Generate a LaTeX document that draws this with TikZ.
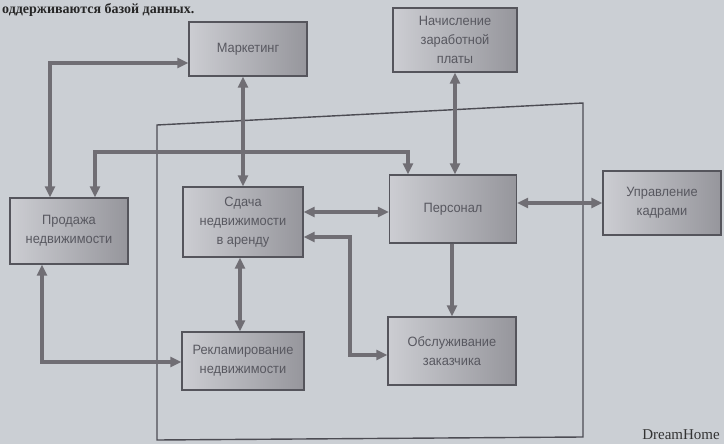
\documentclass[tikz,border=0pt]{standalone}
\usepackage{fontspec}
\setmainfont{Liberation Serif}
\newfontfamily\boxfont[FakeStretch=0.95]{Liberation Sans}
\usetikzlibrary{arrows.meta}
\definecolor{paper}{RGB}{203,207,212}
\definecolor{boxl}{RGB}{204,205,210}
\definecolor{boxr}{RGB}{150,150,156}
\definecolor{edge}{RGB}{85,85,92}
\definecolor{link}{RGB}{112,110,116}
\definecolor{ink}{RGB}{88,88,96}
\tikzset{
  unit/.style={draw=edge, line width=1.3pt, left color=boxl, right color=boxr,
    inner sep=2pt, align=center, text=ink, font=\boxfont\fontsize{13.5}{19}\selectfont},
  link/.style={draw=link, line width=3.6pt,
    {Triangle[length=11pt,width=10pt]}-{Triangle[length=11pt,width=10pt]}},
  onelink/.style={draw=link, line width=3.6pt, -{Triangle[length=11pt,width=10pt]}},
  frame/.style={draw=edge!90!black, line width=1.4pt}
}
\begin{document}
\begin{tikzpicture}[x=1pt,y=-1pt]
  \useasboundingbox (0,0) rectangle (724,444);
  \fill[paper] (0,0) rectangle (724,444);

  % running text of the page
  \node[anchor=base west, font=\fontsize{14}{16}\selectfont\bfseries, text=black!85, inner sep=0]
    (head) at (2,14) {оддерживаются базой данных.};
  \node[anchor=base east, font=\fontsize{15}{16}\selectfont, text=black!80, inner sep=0]
    (foot) at (720,439) {DreamHome};

  % enclosing frame of the branch
  \draw[frame] (157,125) -- (583,103) -- (583,437) -- (157,440) -- cycle;

  % departments
  \node[unit, minimum width=118, minimum height=54] (mark) at (248,49) {Маркетинг};
  \node[unit, minimum width=124, minimum height=64] (nach) at (455,40) {Начисление\\заработной\\платы};
  \node[unit, minimum width=118, minimum height=66] (prod) at (69,231) {Продажа\\недвижимости};
  \node[unit, minimum width=120, minimum height=70] (sdacha) at (243,222) {Сдача\\недвижимости\\в аренду};
  \node[unit, minimum width=127, minimum height=68] (pers) at (453,209) {Персонал};
  \node[unit, minimum width=118, minimum height=64] (upr) at (662,203) {Управление\\кадрами};
  \node[unit, minimum width=122, minimum height=58] (rekl) at (243,361) {Рекламирование\\недвижимости};
  \node[unit, minimum width=128, minimum height=68] (obsl) at (452,351) {Обслуживание\\заказчика};

  % bends of the connectors
  \coordinate (k1) at (50,63);
  \coordinate (k2) at (95,152);
  \coordinate (k3) at (408,152);
  \coordinate (k4) at (243,0);
  \coordinate (k5) at (0,212);
  \coordinate (k6) at (350,237);
  \coordinate (k7) at (350,355);
  \coordinate (k8) at (42,362);
  \coordinate (k9) at (0,203);

  \draw[link] (k1 |- prod.north) -- (k1) -- (k1 -| mark.west);
  \draw[link] (k2 |- prod.north) -- (k2) -- (k3) -- (k3 |- pers.north);
  \draw[link] (k4 |- mark.south) -- (k4 |- sdacha.north);
  \draw[link] (nach.south) -- (nach.south |- pers.north);
  \draw[link] (sdacha.east |- k5) -- (pers.west |- k5);
  \draw[link] (sdacha.east |- k6) -- (k6) -- (k7) -- (obsl.west |- k7);
  \draw[link] (sdacha.south -| 240,0) -- (rekl.north -| 240,0);
  \draw[onelink] (pers.south -| 452,0) -- (obsl.north -| 452,0);
  \draw[link] (pers.east |- k9) -- (upr.west |- k9);
  \draw[link] (k8 |- prod.south) -- (k8) -- (rekl.west |- k8);
\end{tikzpicture}
\end{document}
